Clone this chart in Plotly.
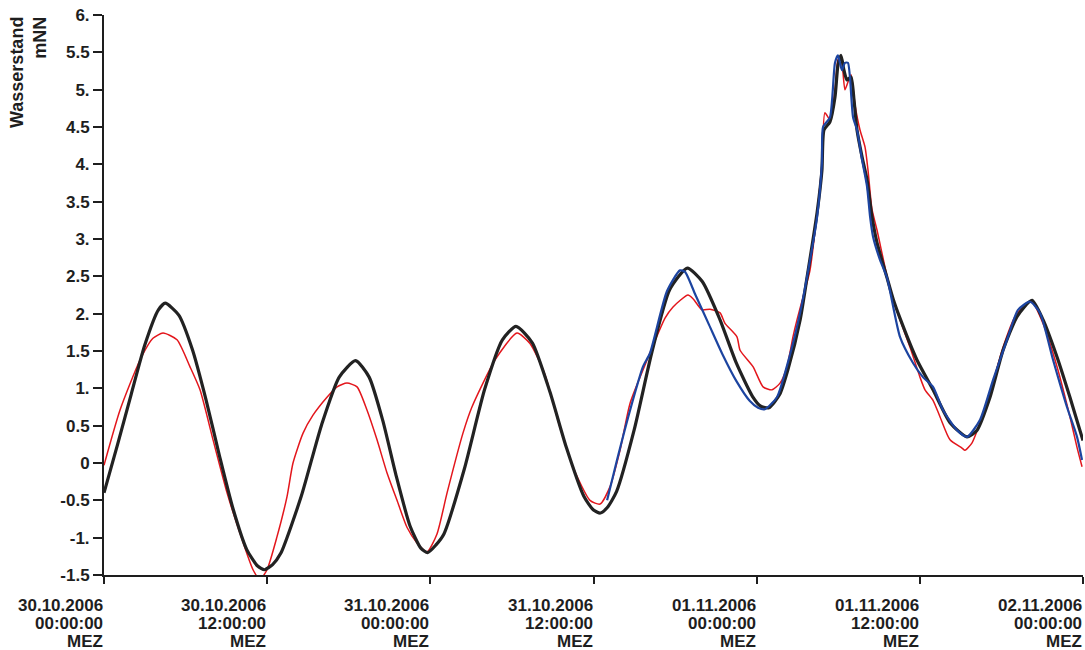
import pandas as pd
import plotly.graph_objects as go

# ---------------- data (hours after 30.10.2006 00:00 MEZ, water level in mNN) ----------------
black_h = [0.0, 1.0, 2.0, 3.0, 4.0, 4.5, 5.5, 6.5, 7.5, 8.5, 9.5, 10.5, 11.3, 11.8, 12.4, 13.0,
           14.5, 16.0, 17.3, 18.5, 19.5, 20.5, 21.5, 22.5, 23.3, 23.8, 24.4, 25.0, 26.5, 28.0,
           29.3, 30.3, 31.5, 32.8, 34.0, 35.3, 36.0, 36.5, 37.0, 37.7, 39.0, 40.3, 41.6, 42.9,
           44.0, 45.3, 46.5, 47.7, 48.3, 48.9, 49.7, 50.3, 51.2, 51.7, 52.44, 52.8, 52.95, 53.39,
           53.76, 53.98, 54.2, 54.42, 54.64, 54.94, 55.16, 55.38, 55.75, 56.12, 56.48, 56.85,
           57.59, 58.03, 58.54, 59.79, 60.97, 62.22, 63.47, 64.21, 65.16, 66.12, 67.15, 68.25,
           69.06, 70.09, 71.04, 72.0]
black_v = [-0.40, 0.25, 0.92, 1.58, 2.05, 2.14, 1.98, 1.52, 0.85, 0.09, -0.62, -1.16, -1.38, -1.43, -1.36, -1.21,
           -0.45, 0.51, 1.15, 1.37, 1.15, 0.57, -0.18, -0.84, -1.14, -1.20, -1.10, -0.95, -0.08, 0.99,
           1.65, 1.83, 1.61, 0.95, 0.21, -0.45, -0.63, -0.67, -0.60, -0.38, 0.45, 1.49, 2.32, 2.61,
           2.43, 1.92, 1.34, 0.89, 0.76, 0.74, 0.92, 1.25, 1.92, 2.48, 3.35, 3.92, 4.46, 4.57,
           4.90, 5.33, 5.46, 5.26, 5.13, 5.17, 4.86, 4.46, 4.10, 3.79, 3.30, 2.95,
           2.48, 2.20, 1.94, 1.38, 0.98, 0.54, 0.35, 0.44, 0.88, 1.51, 1.96, 2.18,
           1.92, 1.42, 0.88, 0.30]

red_h = [0.0, 1.18, 2.65, 3.6, 4.34, 5.37, 6.32, 7.06, 8.02, 9.05, 10.0, 10.96, 11.47, 11.99, 12.72,
         13.46, 13.9, 14.64, 15.37, 16.4, 17.14, 17.87, 18.61, 19.34, 20.08, 20.81, 21.55, 22.28,
         23.02, 23.76, 24.49, 25.23, 26.4, 27.06, 28.76, 30.37, 31.33, 32.4, 33.5, 34.6, 35.74,
         36.48, 37.21, 37.95, 38.69, 39.94, 41.26, 41.85, 42.95, 43.32, 43.98, 44.57, 45.31, 45.67,
         46.55, 46.78, 47.73, 48.47, 49.13, 49.72, 50.23, 50.67, 50.97, 51.41, 51.92, 52.44, 52.8,
         53.02, 53.39, 53.76, 53.98, 54.2, 54.49, 54.71, 54.94, 55.23, 55.6, 55.97, 56.19, 56.48,
         56.85, 57.59, 58.03, 58.54, 59.28, 60.01, 60.38, 60.97, 61.48, 62.22, 63.1, 63.32, 63.84,
         64.43, 65.16, 66.12, 67.0, 67.88, 68.25, 69.06, 70.09, 71.04, 71.56, 71.93]
red_v = [-0.03, 0.71, 1.38, 1.67, 1.74, 1.65, 1.29, 0.98, 0.31, -0.40, -0.94, -1.43, -1.56, -1.43, -0.99,
         -0.45, 0.0, 0.40, 0.64, 0.88, 1.02, 1.07, 1.02, 0.71, 0.31, -0.13, -0.50, -0.86,
         -1.07, -1.19, -0.95, -0.40, 0.40, 0.75, 1.38, 1.74, 1.60, 1.20, 0.50, -0.10, -0.50,
         -0.55, -0.32, 0.17, 0.80, 1.38, 1.94, 2.09, 2.25, 2.20, 2.05, 2.06, 2.01, 1.87,
         1.69, 1.51, 1.29, 1.02, 0.98, 1.07, 1.29, 1.69, 1.92, 2.22, 2.58, 3.35, 4.00,
         4.69, 4.60, 5.00, 5.40, 5.45, 5.00, 5.10, 5.20, 4.80, 4.46, 4.23, 3.92, 3.40,
         3.12, 2.50, 2.20, 1.92, 1.55, 1.15, 0.98, 0.84, 0.62, 0.31, 0.20, 0.17, 0.27,
         0.54, 0.94, 1.55, 1.96, 2.14, 2.16, 1.87, 1.29, 0.62, 0.21, -0.05]

blue_h = [37.0, 37.73, 38.68, 39.64, 40.15, 41.4, 42.36, 42.73, 43.5, 44.5, 45.5, 46.5, 47.5,
          48.1, 48.6, 49.49, 50.45, 51.19, 51.7, 52.44, 52.8, 52.88, 53.39, 53.76,
          53.98, 54.27, 54.49, 54.71, 54.86, 55.09, 55.38, 55.75, 56.12, 56.34, 56.56, 57.07, 57.59,
          58.54, 59.5, 60.23, 60.97, 61.7, 62.73, 63.47, 64.43, 65.38, 66.41, 67.22, 68.1, 68.84,
          69.8, 70.82, 71.56, 71.93]
blue_v = [-0.50, 0.04, 0.70, 1.29, 1.47, 2.30, 2.58, 2.56, 2.25, 1.85, 1.45, 1.10, 0.83,
          0.74, 0.72, 0.88, 1.45, 2.01, 2.49, 3.29, 4.02, 4.50, 4.63, 5.36,
          5.46, 5.26, 5.36, 5.36, 5.17, 4.63, 4.46, 4.06, 3.70, 3.30, 3.03, 2.72, 2.48,
          1.69, 1.34, 1.15, 1.02, 0.71, 0.44, 0.35, 0.58, 1.11, 1.65, 2.05, 2.16, 2.01,
          1.38, 0.75, 0.35, 0.04]

x_tick_hours = [0, 12, 24, 36, 48, 60, 72]
x_tick_dates = ["30.10.2006", "30.10.2006", "31.10.2006", "31.10.2006",
                "01.11.2006", "01.11.2006", "02.11.2006"]
x_tick_times = ["00:00:00", "12:00:00", "00:00:00", "12:00:00", "00:00:00", "12:00:00", "00:00:00"]
x_tick_zone = "MEZ"
y_tick_vals = [6, 5.5, 5, 4.5, 4, 3.5, 3, 2.5, 2, 1.5, 1, 0.5, 0, -0.5, -1, -1.5]
y_tick_text = ["6.", "5.5", "5.", "4.5", "4.", "3.5", "3.", "2.5", "2.", "1.5", "1.", "0.5",
               "0", "-0.5", "-1.", "-1.5"]
y_title = "Wasserstand<br>mNN"

# ---------------------------------------------------------------------------------------------
base = pd.Timestamp("2006-10-30 00:00:00")


def to_time(hours):
    return [base + pd.Timedelta(hours=h) for h in hours]


FONT = "Liberation Sans, Arial, sans-serif"
INK = "#1e1e1e"
FS = 17

fig = go.Figure()
fig.add_trace(go.Scatter(x=to_time(red_h), y=red_v, mode="lines",
                         line=dict(color="#e3161c", width=1.5, shape="spline", smoothing=0.6),
                         showlegend=False, hoverinfo="skip"))
fig.add_trace(go.Scatter(x=to_time(black_h), y=black_v, mode="lines",
                         line=dict(color="#222222", width=3.2, shape="spline", smoothing=0.6),
                         showlegend=False, hoverinfo="skip"))
fig.add_trace(go.Scatter(x=to_time(blue_h), y=blue_v, mode="lines",
                         line=dict(color="#1c44a0", width=2.2, shape="spline", smoothing=0.6),
                         showlegend=False, hoverinfo="skip"))

tick_times = to_time(x_tick_hours)
fig.update_xaxes(type="date", range=[tick_times[0], tick_times[-1]],
                 tickvals=tick_times, showticklabels=False,
                 ticks="outside", ticklen=7, tickwidth=2, tickcolor=INK,
                 showline=True, linewidth=2, linecolor=INK, showgrid=False, zeroline=False)
fig.update_yaxes(range=[-1.5, 6], tickvals=y_tick_vals, ticktext=y_tick_text,
                 ticks="outside", ticklen=9, tickwidth=2, tickcolor=INK,
                 tickfont=dict(family=FONT, size=FS, color=INK, weight="bold"),
                 showline=True, linewidth=2, linecolor=INK, showgrid=False, zeroline=False)

for t, d, tm in zip(tick_times, x_tick_dates, x_tick_times):
    for txt, shift in ((d, -30), (tm, -48), (x_tick_zone, -66)):
        fig.add_annotation(x=t, y=0, xref="x", yref="paper", text=txt,
                           showarrow=False, xanchor="right", yanchor="middle", align="right",
                           yshift=shift, xshift=1,
                           font=dict(family=FONT, size=FS, color=INK, weight="bold"))

fig.add_annotation(x=0, y=1, xref="paper", yref="paper", text=y_title,
                   showarrow=False, textangle=-90, xanchor="right", yanchor="top",
                   align="right", xshift=-52, yshift=0,
                   font=dict(family=FONT, size=FS + 1, color=INK, weight="bold"))

fig.update_layout(width=1085, height=650, margin=dict(l=104, r=2, t=15, b=75),
                  paper_bgcolor="white", plot_bgcolor="white")

fig.write_html("out.html", config={"displayModeBar": False},
               post_script="document.body.style.margin='0';document.body.style.padding='0';")
